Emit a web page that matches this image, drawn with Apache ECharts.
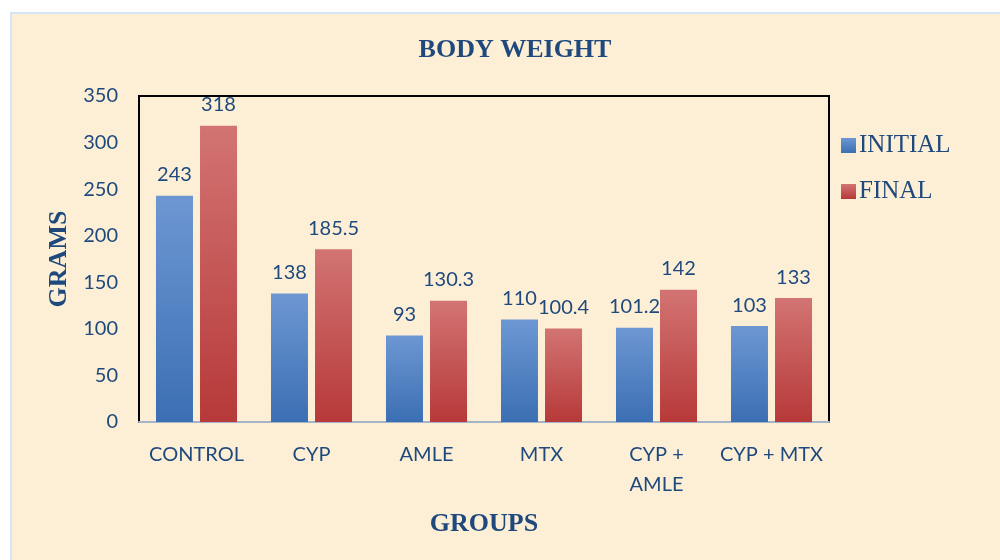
<!DOCTYPE html>
<html><head><meta charset="utf-8">
<script src="https://cdn.jsdelivr.net/npm/echarts@6/dist/echarts.min.js"></script>
<style>
html,body{margin:0;padding:0;background:#fff;width:1000px;height:560px;overflow:hidden}
#bg{position:absolute;left:10px;top:12px;width:992px;height:560px;background:#fcefd6;border:2px solid #d4e3f5;box-sizing:border-box}
#c{position:absolute;left:0;top:0;width:1000px;height:560px}
</style></head><body>
<div id="bg"></div>
<div id="c"></div>
<script>
const categories = ['CONTROL','CYP','AMLE','MTX','CYP + AMLE','CYP + MTX'];
const initialValues = [243,138,93,110,101.2,103];
const finalValues = [318,185.5,130.3,100.4,142,133];
const yTicks = {min:0,max:350,interval:50};
const txt = '#1f497d';
const chart = echarts.init(document.getElementById('c'));
function grad(a,b){return new echarts.graphic.LinearGradient(0,0,0,1,[{offset:0,color:a},{offset:1,color:b}]);}
const lbl = {show:true,position:'top',distance:11,color:txt,fontFamily:'Lato',fontSize:20};
chart.setOption({
  backgroundColor:'transparent',
  animation:false,
  title:{text:'BODY WEIGHT',left:510,top:32,textAlign:'center',textStyle:{fontFamily:'Liberation Serif',fontWeight:'bold',fontSize:26,color:txt}},
  legend:{orient:'vertical',left:836,top:128,itemGap:21,itemWidth:15,itemHeight:15,icon:'rect',
    textStyle:{fontFamily:'Liberation Serif',fontSize:25,color:txt,padding:[0,0,0,-2]},data:['INITIAL','FINAL']},
  grid:{left:139,top:96,width:690,height:326,show:true,borderColor:'#000',borderWidth:2,backgroundColor:'transparent'},
  xAxis:{type:'category',data:categories,name:'GROUPS',nameLocation:'middle',nameGap:89,
    nameTextStyle:{fontFamily:'Liberation Serif',fontWeight:'bold',fontSize:26,color:txt},
    axisLine:{lineStyle:{color:'#a6b4c8',width:2}},axisTick:{show:false},
    axisLabel:{margin:18,color:txt,fontFamily:'Lato',fontSize:20,lineHeight:30,interval:0,
      formatter:v=>v==='CYP + AMLE'?'CYP +\nAMLE':v}},
  yAxis:{type:'value',min:yTicks.min,max:yTicks.max,interval:yTicks.interval,name:'GRAMS',nameLocation:'middle',nameGap:66,
    nameTextStyle:{fontFamily:'Liberation Serif',fontWeight:'bold',fontSize:26,color:txt},
    splitLine:{show:false},axisLine:{show:false},axisTick:{show:false},
    axisLabel:{margin:21,color:txt,fontFamily:'Lato',fontSize:20}},
  series:[
    {name:'INITIAL',type:'bar',data:initialValues,barWidth:37,barGap:'19%',label:lbl,
      itemStyle:{color:grad('#6d97d3','#3b6fb3')}},
    {name:'FINAL',type:'bar',data:finalValues,barWidth:37,label:lbl,
      itemStyle:{color:grad('#d27473','#b73939')}}
  ]
});
</script></body></html>
